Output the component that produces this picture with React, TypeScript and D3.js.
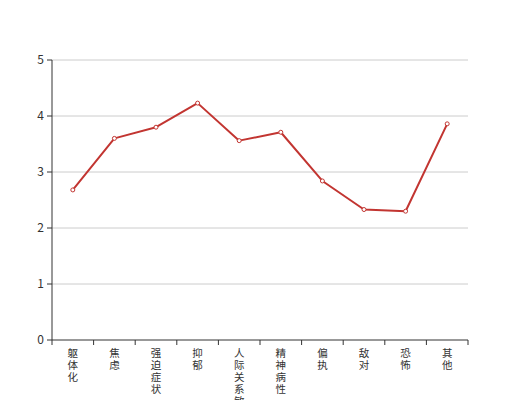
import React from "react";
import * as d3 from "d3";

const categories = ["躯体化", "焦虑", "强迫症状", "抑郁", "人际关系敏感", "精神病性", "偏执", "敌对", "恐怖", "其他"];
const values = [2.68, 3.6, 3.8, 4.23, 3.56, 3.71, 2.84, 2.33, 2.3, 3.86];
const yTicks = [0, 1, 2, 3, 4, 5];

const W = 520, H = 400;
const left = 52, right = 468, top = 60, bottom = 340;

export default function App() {
  const x = d3.scaleBand<string>().domain(categories).range([left, right]);
  const y = d3.scaleLinear().domain([0, 5]).range([bottom, top]);
  const line = d3.line<number>()
    .x((_, i) => (x(categories[i]) as number) + x.bandwidth() / 2)
    .y((d) => y(d));
  const font = "'Noto Sans CJK SC', sans-serif";
  const boundaries = categories.map((c) => x(c) as number).concat([right]);
  return (
    <svg width={W} height={H} style={{ position: "absolute", left: 0, top: 0 }} fontFamily={font}>
      <rect width={W} height={H} fill="#fff" />
      {yTicks.map((t) => (
        <g key={t}>
          {t > 0 && <line x1={left} x2={right} y1={y(t)} y2={y(t)} stroke="#ccc" strokeWidth={1} />}
          <line x1={left - 5} x2={left} y1={y(t)} y2={y(t)} stroke="#333" />
          <text x={left - 8} y={y(t)} dy="0.35em" textAnchor="end" fontSize={12} fill="#333">{t}</text>
        </g>
      ))}
      <line x1={left} x2={left} y1={top} y2={bottom} stroke="#333" />
      <line x1={left} x2={right} y1={bottom} y2={bottom} stroke="#333" />
      {boundaries.map((b, i) => (
        <line key={i} x1={b} x2={b} y1={bottom} y2={bottom + 5} stroke="#333" />
      ))}
      {categories.map((c) => (
        <text key={c} x={(x(c) as number) + x.bandwidth() / 2} y={bottom + 17} textAnchor="middle" fontSize={10.5} fill="#333">
          {c.split("").map((ch, i) => (
            <tspan key={i} x={(x(c) as number) + x.bandwidth() / 2} y={bottom + 17 + i * 12}>{ch}</tspan>
          ))}
        </text>
      ))}
      <path d={line(values) || ""} fill="none" stroke="#c23531" strokeWidth={2} strokeLinejoin="bevel" />
      {values.map((v, i) => (
        <circle key={i} cx={(x(categories[i]) as number) + x.bandwidth() / 2} cy={y(v)} r={2} fill="#fff" stroke="#c23531" strokeWidth={1} />
      ))}
    </svg>
  );
}
